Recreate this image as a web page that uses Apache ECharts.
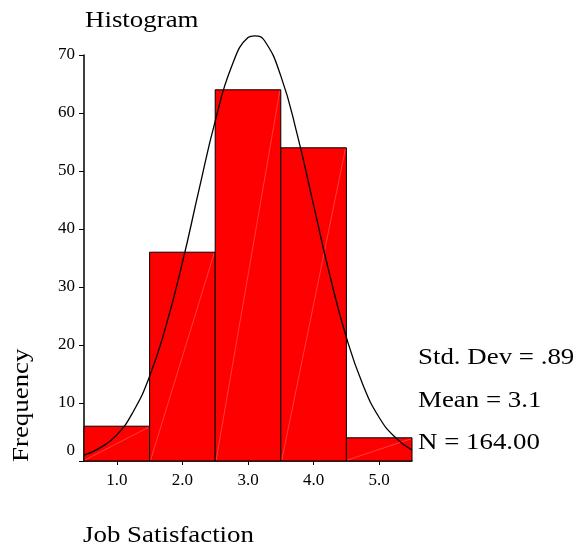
<!DOCTYPE html>
<html><head><meta charset="utf-8">
<script src="https://cdn.jsdelivr.net/npm/echarts@6/dist/echarts.min.js"></script>
<style>html,body{margin:0;padding:0;background:#fff}#c{width:581px;height:555px}</style>
</head><body><div id="c"></div>
<script>
// Histogram bins (centers) and frequencies
const binCenters = [1, 2, 3, 4, 5];
const frequencies = [6, 36, 64, 54, 4];
const xTickValues = [1, 2, 3, 4, 5];
const yTickValues = [0, 10, 20, 30, 40, 50, 60, 70];
// Normal curve
const curveX = [0.5, 0.75, 1.0, 1.25, 1.5, 1.75, 2.0, 2.25, 2.5, 2.75, 3.0, 3.1, 3.25, 3.5, 3.75, 4.0, 4.25, 4.5, 4.75, 5.0, 5.25, 5.5];
const curveY = [1.0, 2.3, 4.5, 8.5, 14.6, 23.3, 34.2, 46.6, 58.6, 68.0, 73.0, 73.3, 72.5, 66.4, 56.3, 44.1, 31.9, 21.3, 13.2, 7.5, 4.0, 1.9];
const statsLines = ['Std. Dev = .89', 'Mean = 3.1', 'N = 164.00'];
const titleText = 'Histogram';
const yName = 'Frequency';
const xName = 'Job Satisfaction';

const FONT = '"Liberation Serif", "Times New Roman", serif';
const SX = 1.12;
const chart = echarts.init(document.getElementById('c'), null, {renderer: 'canvas'});
const barData = binCenters.map((c, i) => [c, frequencies[i]]);
const curveData = curveX.map((x, i) => [x, curveY[i]]);

function label(text, x, y, extra) {
  return Object.assign({
    type: 'text', x: x, y: y, scaleX: SX,
    style: {text: text, font: '24px ' + FONT, fill: '#000', align: 'left', verticalAlign: 'middle'}
  }, extra || {});
}

chart.setOption({
  animation: false,
  backgroundColor: '#fff',
  grid: {left: 84, right: 169, top: 55, bottom: 94, containLabel: false},
  xAxis: {
    type: 'value', min: 0.5, max: 5.5,
    splitLine: {show: false},
    axisLine: {show: true, lineStyle: {color: '#000', width: 1.5}},
    axisTick: {show: true, customValues: xTickValues, length: 4, lineStyle: {color: '#000', width: 1}},
    axisLabel: {show: true, customValues: xTickValues, formatter: v => v.toFixed(1),
      fontFamily: FONT, fontSize: 17, color: '#000', margin: 11}
  },
  yAxis: {
    type: 'value', min: 0, max: 70, interval: 10,
    splitLine: {show: false},
    axisLine: {show: true, lineStyle: {color: '#000', width: 1.5}},
    axisTick: {show: true, length: 5, lineStyle: {color: '#000', width: 1}},
    axisLabel: {fontFamily: FONT, fontSize: 17, color: '#000', margin: 9,
      formatter: v => v === 0 ? '{z|0}' : String(v),
      rich: {z: {fontFamily: FONT, fontSize: 17, color: '#000', padding: [0, 0, 20, 0]}}}
  },
  series: [
    {
      type: 'custom',
      data: barData,
      clip: false,
      renderItem: function (params, api) {
        const c = api.value(0), f = api.value(1);
        const p0 = api.coord([c - 0.5, 0]);
        const p1 = api.coord([c + 0.5, f]);
        return {
          type: 'group',
          children: [
            {type: 'rect', shape: {x: p0[0], y: p1[1], width: p1[0] - p0[0], height: p0[1] - p1[1]},
              style: {fill: '#ff0000', stroke: '#000', lineWidth: 1}},
            {type: 'line', shape: {x1: p0[0] + 1, y1: p0[1] - 1, x2: p1[0] - 1, y2: p1[1] + 1},
              style: {stroke: 'rgba(255,255,255,0.4)', lineWidth: 0.6}}
          ]
        };
      }
    },
    {
      type: 'line', data: curveData, smooth: true, showSymbol: false, clip: false,
      lineStyle: {color: '#000', width: 1.3}, z: 5
    }
  ],
  graphic: [
    label(titleText, 85, 21),
    label(xName, 83, 536),
    label(yName, 22, 462, {rotation: Math.PI / 2}),
    label(statsLines[0], 418, 358),
    label(statsLines[1], 418, 401),
    label(statsLines[2], 418, 443)
  ]
});
</script></body></html>
